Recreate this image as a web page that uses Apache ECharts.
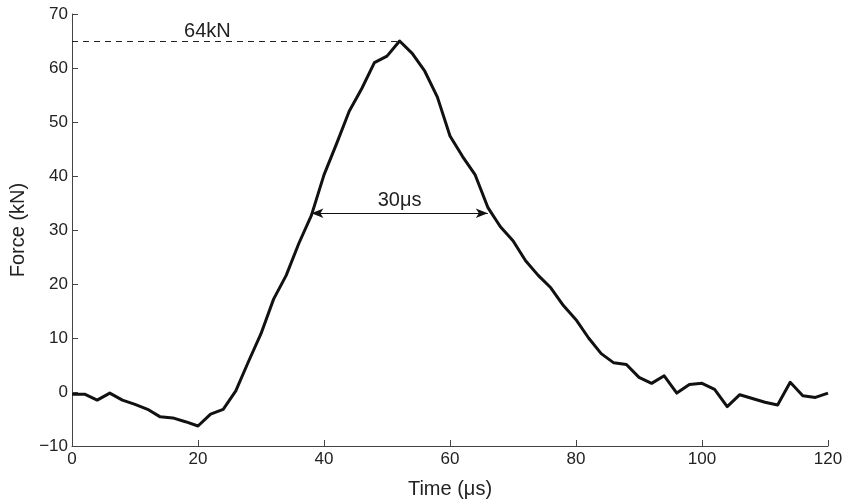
<!DOCTYPE html>
<html>
<head>
<meta charset="utf-8">
<script src="https://cdn.jsdelivr.net/npm/echarts@6/dist/echarts.min.js"></script>
<style>html,body{margin:0;padding:0;background:#fff;}#c{width:858px;height:504px;}</style>
</head>
<body>
<div id="c"></div>
<script>
const timeUs = [0,2,4,6,8,10,12,14,16,18,20,22,24,26,28,30,32,34,36,38,40,42,44,46,48,50,52,54,56,58,60,62,64,66,68,70,72,74,76,78,80,82,84,86,88,90,92,94,96,98,100,102,104,106,108,110,112,114,116,118,120];
const forceKN = [-0.4,-0.4,-1.5,-0.2,-1.5,-2.3,-3.2,-4.6,-4.8,-5.5,-6.3,-4.1,-3.2,0.2,5.6,10.8,17.2,21.6,27.5,32.7,40.2,46.0,52.0,56.2,61.0,62.2,65.0,62.7,59.4,54.6,47.4,43.6,40.2,34.2,30.6,28.0,24.3,21.6,19.3,16.0,13.4,10.0,7.1,5.4,5.1,2.7,1.6,3.0,-0.2,1.4,1.6,0.5,-2.7,-0.5,-1.2,-1.9,-2.4,1.8,-0.7,-1.0,-0.2];
const xTicks = {min:0, max:120, interval:20};
const yTicks = {min:-10, max:70, interval:10};
const peakLine = {from:[0,65], to:[52,65], label:'64kN', labelAt:[21.5,65]};
const widthArrow = {from:[38,33.1], to:[66,33.1], label:'30μs'};

const chart = echarts.init(document.getElementById('c'));
const FONT = 'Liberation Sans, Arial, Helvetica, sans-serif';
chart.setOption({
  animation:false,
  backgroundColor:'#fff',
  grid:{left:72,right:30,top:14,bottom:56},
  xAxis:{
    type:'value', min:xTicks.min, max:xTicks.max, interval:xTicks.interval,
    name:'Time (μs)', nameLocation:'middle', nameGap:33,
    nameTextStyle:{fontFamily:FONT,fontSize:20,color:'#222'},
    axisLine:{onZero:false,lineStyle:{color:'#444',width:1}},
    axisTick:{inside:true,length:6,lineStyle:{color:'#444'}},
    axisLabel:{fontFamily:FONT,fontSize:17,color:'#222',margin:5},
    splitLine:{show:false}
  },
  yAxis:{
    type:'value', min:yTicks.min, max:yTicks.max, interval:yTicks.interval,
    name:'Force (kN)', nameLocation:'middle', nameGap:28,
    nameTextStyle:{fontFamily:FONT,fontSize:20,color:'#222'},
    axisLine:{show:true,onZero:false,lineStyle:{color:'#444',width:1}},
    axisTick:{show:true,inside:true,length:6,lineStyle:{color:'#444'}},
    axisLabel:{fontFamily:FONT,fontSize:17,color:'#222',margin:4,
      formatter:v=>String(v).replace('-','\u2212')},
    splitLine:{show:false}
  },
  series:[{
    type:'line',
    data:timeUs.map((t,i)=>[t,forceKN[i]]),
    showSymbol:false, symbol:'none',
    lineStyle:{color:'#111',width:3,join:'round'},
    markLine:{
      silent:true, animation:false,
      data:[
        [{coord:peakLine.from,symbol:'none',lineStyle:{type:[6,5],color:'#222',width:1},label:{show:false}},
         {coord:peakLine.to,symbol:'none'}],
        [{coord:widthArrow.from,symbol:'arrow',symbolSize:[7,12],lineStyle:{type:'solid',color:'#111',width:1.2},
          label:{show:true,position:'middle',formatter:widthArrow.label,fontFamily:FONT,fontSize:20,color:'#222',distance:3}},
         {coord:widthArrow.to,symbol:'arrow',symbolSize:[7,12]}]
      ]
    },
    markPoint:{
      silent:true,
      data:[{coord:peakLine.labelAt,symbol:'circle',symbolSize:0,
        label:{show:true,position:'top',distance:0,formatter:peakLine.label,fontFamily:FONT,fontSize:20,color:'#222'}}]
    }
  }]
});
</script>
</body>
</html>
